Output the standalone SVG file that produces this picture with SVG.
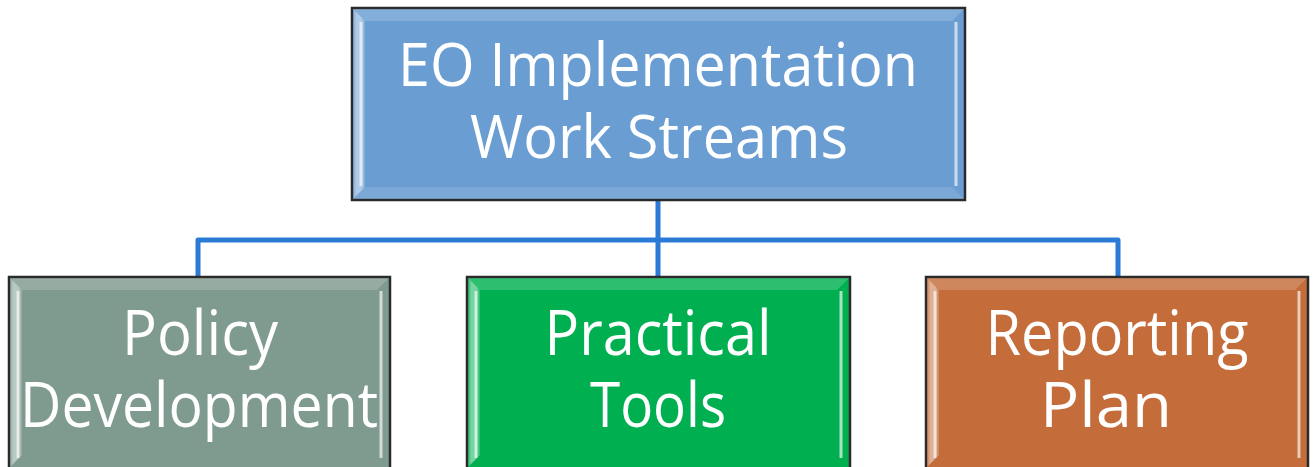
<svg xmlns="http://www.w3.org/2000/svg" width="1315" height="467" viewBox="0 0 1315 467">
<style>
.frame{stroke:#2a2a2a;stroke-width:2.5}
.lbl{font-family:"Open Sans","Noto Sans","Liberation Sans",sans-serif;fill:#ffffff;text-anchor:middle}
.conn{fill:none;stroke:#2b7bd6;stroke-width:5;stroke-linejoin:round}
.bt{fill:#ffffff;opacity:0.18}
.bb{fill:#ffffff;opacity:0.12}
.side{fill:url(#sideG)}
.hl{stroke:#ffffff;stroke-width:3;opacity:0.65}
</style>
<defs>
<linearGradient id="sideG" x1="0" y1="0" x2="1" y2="0">
<stop offset="0" stop-color="#ffffff" stop-opacity="0.05"/>
<stop offset="0.7" stop-color="#ffffff" stop-opacity="0.35"/>
<stop offset="1" stop-color="#ffffff" stop-opacity="0.1"/>
</linearGradient>
</defs>
<rect width="1315" height="467" fill="#ffffff"/>
<g id="connectors">
<path class="conn" d="M658 200 V276 M198 277 V240 H1118 V277"/>
</g>
<g id="node-top">
<rect class="frame" x="352" y="8" width="613" height="192" fill="#6a9dd2"/>
<polygon class="bt" points="353,9 964,9 952,21 365,21"/>
<polygon class="bb" points="353,199 964,199 952,187 365,187"/>
<polygon class="side" points="353,9 365,21 365,187 353,199"/>
<polygon class="side" points="964,9 952,21 952,187 964,199" transform="translate(1317,0) scale(-1,1)"/>
<line class="hl" x1="361" y1="22" x2="361" y2="186"/>
<line class="hl" x1="956" y1="22" x2="956" y2="186"/>
<text class="lbl" x="658" y="86" font-size="60" textLength="520" lengthAdjust="spacingAndGlyphs">EO Implementation</text>
<text class="lbl" x="659" y="158" font-size="60" textLength="378" lengthAdjust="spacingAndGlyphs">Work Streams</text>
</g>
<g id="node-policy">
<rect class="frame" x="9" y="277" width="381" height="192" fill="#7f9a8f"/>
<polygon class="bt" points="10,278 389,278 377,290 22,290"/>
<polygon class="side" points="10,278 22,290 22,455 10,467"/>
<polygon class="side" points="389,278 377,290 377,455 389,467" transform="translate(399,0) scale(-1,1)"/>
<line class="hl" x1="18" y1="291" x2="18" y2="458"/>
<line class="hl" x1="381" y1="291" x2="381" y2="458"/>
<text class="lbl" x="200" y="355" font-size="62" textLength="156" lengthAdjust="spacingAndGlyphs">Policy</text>
<text class="lbl" x="199" y="427" font-size="62" textLength="358" lengthAdjust="spacingAndGlyphs">Development</text>
</g>
<g id="node-practical">
<rect class="frame" x="467" y="277" width="383" height="192" fill="#00b050"/>
<polygon class="bt" points="468,278 849,278 837,290 480,290"/>
<polygon class="side" points="468,278 480,290 480,455 468,467"/>
<polygon class="side" points="849,278 837,290 837,455 849,467" transform="translate(1317,0) scale(-1,1)"/>
<line class="hl" x1="476" y1="291" x2="476" y2="458"/>
<line class="hl" x1="841" y1="291" x2="841" y2="458"/>
<text class="lbl" x="658" y="355" font-size="62" textLength="227" lengthAdjust="spacingAndGlyphs">Practical</text>
<text class="lbl" x="658" y="427" font-size="62" textLength="136" lengthAdjust="spacingAndGlyphs">Tools</text>
</g>
<g id="node-reporting">
<rect class="frame" x="926" y="277" width="382" height="192" fill="#c46d3a"/>
<polygon class="bt" points="927,278 1307,278 1295,290 939,290"/>
<polygon class="side" points="927,278 939,290 939,455 927,467"/>
<polygon class="side" points="1307,278 1295,290 1295,455 1307,467" transform="translate(2234,0) scale(-1,1)"/>
<line class="hl" x1="935" y1="291" x2="935" y2="458"/>
<line class="hl" x1="1299" y1="291" x2="1299" y2="458"/>
<text class="lbl" x="1117" y="355" font-size="62" textLength="263" lengthAdjust="spacingAndGlyphs">Reporting</text>
<text class="lbl" x="1106" y="427" font-size="62" textLength="132" lengthAdjust="spacingAndGlyphs">Plan</text>
</g>
</svg>
